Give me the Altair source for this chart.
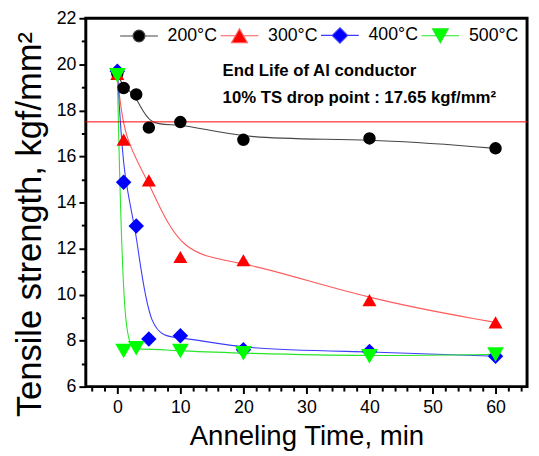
import altair as alt
import pandas as pd

# ---- data ----
series_names = ["200°C", "300°C", "400°C", "500°C"]
times_200 = [0, 1, 3, 5, 10, 20, 40, 60]
ts_200 = [19.6, 18.97, 18.69, 17.25, 17.49, 16.72, 16.78, 16.35]
times_300 = [0, 1, 5, 10, 20, 40, 60]
ts_300 = [19.58, 16.73, 14.96, 11.63, 11.49, 9.76, 8.79]
times_400 = [0, 1, 3, 5, 10, 20, 40, 60]
ts_400 = [19.7, 14.88, 12.98, 8.07, 8.21, 7.6, 7.53, 7.32]
times_500 = [0, 1, 3, 10, 20, 40, 60]
ts_500 = [19.52, 7.55, 7.67, 7.55, 7.45, 7.32, 7.4]

drop_line = [17.5]
note_lines = ["End Life of Al conductor", "10% TS drop point : 17.65 kgf/mm²"]
note_x = [16.7, 16.7]
note_y = [19.5, 18.3]

x_ticks = list(range(-4, 66, 2))
y_ticks = [6 + 0.5 * i for i in range(33)]

marker_colors = ["#000000", "#ff0000", "#0000ff", "#00ff00"]
line_colors = ["#454545", "#ff5a5a", "#3c3cff", "#28e628"]
plot_shapes = ["circle", "triangle-up", "diamond", "triangle-down"]
plot_sizes = [160, 290, 260, 270]
legend_shapes = [
    "M1,0 A1,1 0 1,1 -1,0 A1,1 0 1,1 1,0 Z M-3.2,0 L-1,0 M1,0 L3.2,0",
    "M0,-1.17 L1.33,1.17 L-1.33,1.17 Z M-3.2,0 L-0.67,0 M0.67,0 L3.2,0",
    "M0,-1.3 L1.3,0 L0,1.3 L-1.3,0 Z M-3.2,0 L-1.3,0 M1.3,0 L3.2,0",
    "M0,1.17 L1.33,-1.17 L-1.33,-1.17 Z M-3.2,0 L-0.67,0 M0.67,0 L3.2,0",
]

rows = []
for name, ts, vals in zip(series_names, [times_200, times_300, times_400, times_500],
                          [ts_200, ts_300, ts_400, ts_500]):
    for t, v in zip(ts, vals):
        rows.append({"series": name, "time": t, "ts": v})
df = pd.DataFrame(rows)
df_rule = pd.DataFrame({"ts": drop_line})
df_note = pd.DataFrame({"time": note_x, "ts": note_y, "text": note_lines})

FONT = "Liberation Sans"

x_axis = alt.Axis(
    values=x_ticks, format="d",
    labelExpr="datum.value % 10 === 0 ? datum.label : ''",
    tickSize={"condition": {"test": "datum.value % 10 === 0", "value": 7}, "value": 4.5},
    tickWidth=2, tickColor="black", domain=False, grid=False,
    labelOverlap=False, labelFlush=False,
    labelFont=FONT, labelFontSize=18, labelColor="black", labelPadding=5,
    title="Anneling Time, min", titleFont=FONT, titleFontSize=28,
    titleFontWeight="normal", titleColor="black", titleBaseline="alphabetic",
    titleY=59,
)
y_axis = alt.Axis(
    values=y_ticks, format="d",
    labelExpr="datum.value % 2 === 0 ? datum.label : ''",
    tickSize={"condition": {"test": "datum.value % 2 === 0", "value": 7}, "value": 4.5},
    tickWidth=2, tickColor="black", domain=False, grid=False,
    labelOverlap=False, labelFlush=False,
    labelFont=FONT, labelFontSize=18, labelColor="black", labelPadding=3,
    title="Tensile strength,  kgf/mm²", titleFont=FONT, titleFontSize=35,
    titleFontWeight="normal", titleColor="black", titleAngle=270,
    titleAlign="center", titleBaseline="alphabetic", titleX=-46, titleY=209,
)
x_scale = alt.Scale(domain=[-5, 65], nice=False, zero=False)
y_scale = alt.Scale(domain=[6, 22], nice=False, zero=False)


def X():
    return alt.X("time:Q", scale=x_scale, axis=x_axis)


def Y():
    return alt.Y("ts:Q", scale=y_scale, axis=y_axis)


lines = alt.Chart(df).mark_line(interpolate="basis", strokeWidth=1.1).encode(
    x=X(), y=Y(),
    color=alt.Color("series:N", scale=alt.Scale(domain=series_names, range=line_colors), legend=None),
    detail="series:N",
)

rule = alt.Chart(df_rule).mark_rule(color="#ff0000", strokeWidth=1).encode(y=Y())

points = alt.Chart(df).mark_point(filled=True, opacity=1).encode(
    x=X(), y=Y(),
    color=alt.Color("series:N", scale=alt.Scale(domain=series_names, range=marker_colors), legend=None),
    shape=alt.Shape("series:N", scale=alt.Scale(domain=series_names, range=plot_shapes), legend=None),
    size=alt.Size("series:N", scale=alt.Scale(domain=series_names, range=plot_sizes), legend=None),
)

notes = alt.Chart(df_note).mark_text(
    align="left", baseline="alphabetic", font=FONT, fontSize=17, fontWeight="bold", color="black"
).encode(x=X(), y=Y(), text="text:N")

legend_props = dict(
    orient="none", legendX=45, legendY=8, direction="horizontal", title=None,
    labelFont=FONT, labelFontSize=18, labelColor="black", symbolSize=144,
    labelOffset=20, columnPadding=0, symbolStrokeWidth=1.2, padding=0,
    symbolOpacity=1,
)
legend_layer = alt.Chart(df).mark_point(filled=True, size=144, strokeWidth=1.2).encode(
    fill=alt.Fill("series:N", scale=alt.Scale(domain=series_names, range=marker_colors),
                  legend=alt.Legend(**legend_props)),
    stroke=alt.Stroke("series:N", scale=alt.Scale(domain=series_names, range=line_colors),
                      legend=alt.Legend(**legend_props)),
    shape=alt.Shape("series:N", scale=alt.Scale(domain=series_names, range=legend_shapes),
                    legend=alt.Legend(**legend_props)),
).transform_filter("datum.time < -100")

chart = alt.layer(lines, rule, points, notes, legend_layer).resolve_scale(
    color="independent", fill="independent", stroke="independent",
    shape="independent", size="independent",
).properties(
    width=448, height=374,
    autosize=alt.AutoSizeParams(type="none"),
    padding={"left": 79, "top": 7, "right": 4, "bottom": 66},
    background="white",
).configure_view(stroke="black", strokeWidth=3).configure_axis(labelOverlap=False)

chart.save("out.html", embed_options={"renderer": "svg", "actions": False})
